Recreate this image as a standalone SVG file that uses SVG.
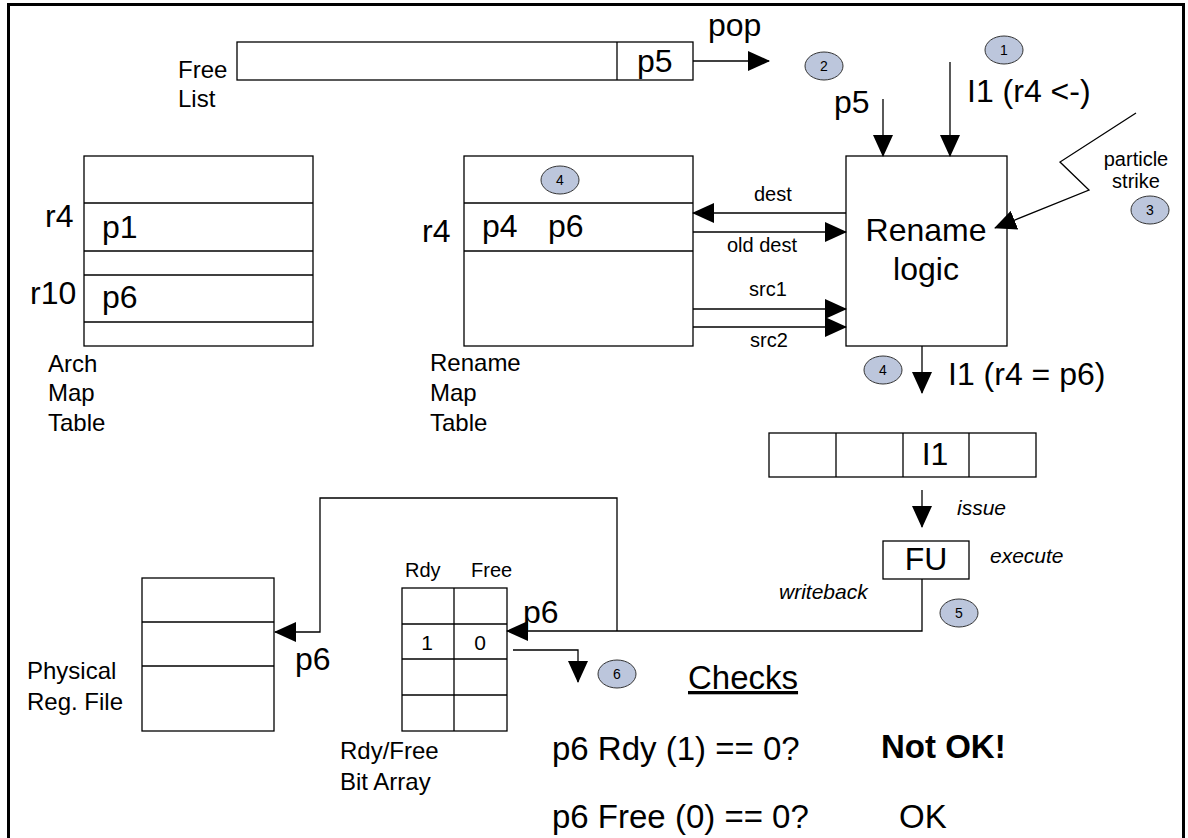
<svg xmlns="http://www.w3.org/2000/svg" width="1188" height="838" viewBox="0 0 1188 838">
  <style>
    text { font-family: "Liberation Sans", Arial, sans-serif; fill: #000; }
    .big { font-size: 32px; }
    .chk { font-size: 33px; }
    .mid { font-size: 24px; }
    .sm { font-size: 20px; }
    .it { font-size: 21px; font-style: italic; }
    .num { font-size: 14px; text-anchor: middle; }
    .box { fill: #fff; stroke: #000; stroke-width: 1.3; }
    .ln { fill: none; stroke: #000; stroke-width: 1.3; }
    .wire { fill: none; stroke: #000; stroke-width: 1.3; }
    .arr { marker-end: url(#head); }
    .badge { fill: #bcc6dc; stroke: #333; stroke-width: 1; }
  </style>
  <defs>
    <marker id="head" markerUnits="userSpaceOnUse" markerWidth="22" markerHeight="20" viewBox="0 0 22 20" refX="21" refY="10" orient="auto">
      <path d="M0,0 L22,10 L0,20 Z" fill="#000"/>
    </marker>
  </defs>

  <rect width="1188" height="838" fill="#fff"/>
  <!-- frame -->
  <path d="M8.5,845 V4.5 H1183.5 V845" fill="none" stroke="#000" stroke-width="3"/>

  <!-- free list -->
  <g id="free-list">
    <rect class="box" x="237" y="42" width="456" height="38"/>
    <line class="ln" x1="617" y1="42" x2="617" y2="80"/>
    <text class="big" x="637" y="72">p5</text>
    <text class="mid" x="178" y="78">Free</text>
    <text class="mid" x="178" y="107">List</text>
  </g>

  <!-- architectural map table -->
  <g id="arch-map">
    <rect class="box" x="84" y="156" width="229" height="190"/>
    <line class="ln" x1="84" y1="203" x2="313" y2="203"/>
    <line class="ln" x1="84" y1="251" x2="313" y2="251"/>
    <line class="ln" x1="84" y1="275" x2="313" y2="275"/>
    <line class="ln" x1="84" y1="322" x2="313" y2="322"/>
    <text class="big" x="45" y="227">r4</text>
    <text class="big" x="102" y="238">p1</text>
    <text class="big" x="30" y="304">r10</text>
    <text class="big" x="102" y="308">p6</text>
    <text class="mid" x="48" y="372">Arch</text>
    <text class="mid" x="48" y="401">Map</text>
    <text class="mid" x="48" y="431">Table</text>
  </g>

  <!-- rename map table -->
  <g id="rename-map">
    <rect class="box" x="464" y="156" width="229" height="190"/>
    <line class="ln" x1="464" y1="203" x2="693" y2="203"/>
    <line class="ln" x1="464" y1="251" x2="693" y2="251"/>
    <text class="big" x="422" y="242">r4</text>
    <text class="big" x="482" y="237">p4</text>
    <text class="big" x="548" y="237">p6</text>
    <text class="mid" x="430" y="371">Rename</text>
    <text class="mid" x="430" y="401">Map</text>
    <text class="mid" x="430" y="431">Table</text>
  </g>

  <!-- rename logic -->
  <g id="rename-logic">
    <rect class="box" x="846" y="156" width="161" height="190"/>
    <text class="big" x="926" y="241" text-anchor="middle">Rename</text>
    <text class="big" x="926" y="280" text-anchor="middle">logic</text>
  </g>

  <!-- issue queue -->
  <g id="issue-queue">
    <rect class="box" x="769" y="433" width="267" height="44"/>
    <line class="ln" x1="836" y1="433" x2="836" y2="477"/>
    <line class="ln" x1="903" y1="433" x2="903" y2="477"/>
    <line class="ln" x1="969" y1="433" x2="969" y2="477"/>
    <text class="big" x="935" y="465" text-anchor="middle">I1</text>
  </g>

  <!-- functional unit -->
  <g id="fu">
    <rect class="box" x="883" y="541" width="86" height="38"/>
    <text class="big" x="926" y="570" text-anchor="middle">FU</text>
  </g>

  <!-- physical register file -->
  <g id="prf">
    <rect class="box" x="142" y="578" width="132" height="153"/>
    <line class="ln" x1="142" y1="622" x2="274" y2="622"/>
    <line class="ln" x1="142" y1="666" x2="274" y2="666"/>
    <text class="mid" x="27" y="679">Physical</text>
    <text class="mid" x="27" y="710">Reg. File</text>
  </g>

  <!-- ready / free bit array -->
  <g id="bit-array">
    <rect class="box" x="402" y="588" width="105" height="143"/>
    <line class="ln" x1="454" y1="588" x2="454" y2="731"/>
    <line class="ln" x1="402" y1="624" x2="507" y2="624"/>
    <line class="ln" x1="402" y1="659" x2="507" y2="659"/>
    <line class="ln" x1="402" y1="695" x2="507" y2="695"/>
    <text class="sm" x="405" y="577">Rdy</text>
    <text class="sm" x="471" y="577">Free</text>
    <text class="sm" x="427" y="650" text-anchor="middle" style="font-size:21px">1</text>
    <text class="sm" x="480" y="650" text-anchor="middle" style="font-size:21px">0</text>
    <text class="mid" x="340" y="759">Rdy/Free</text>
    <text class="mid" x="340" y="790">Bit Array</text>
  </g>

  <!-- connectors -->
  <g id="connectors">
    <line class="wire arr" x1="693" y1="61" x2="769" y2="61"/>
    <line class="wire arr" x1="883" y1="99" x2="883" y2="156"/>
    <line class="wire arr" x1="950" y1="62" x2="950" y2="156"/>
    <polyline class="wire arr" points="1136,113 1060,162 1089,190 995,228"/>
    <line class="wire arr" x1="846" y1="213" x2="693" y2="213"/>
    <line class="wire arr" x1="693" y1="232" x2="846" y2="232"/>
    <line class="wire arr" x1="693" y1="309" x2="846" y2="309"/>
    <line class="wire arr" x1="693" y1="327" x2="846" y2="327"/>
    <line class="wire arr" x1="922" y1="346" x2="922" y2="393"/>
    <line class="wire arr" x1="922" y1="490" x2="922" y2="527"/>
    <polyline class="wire arr" points="922,579 922,631 507,631"/>
    <polyline class="wire arr" points="617,631 617,498 320,498 320,632 275,632"/>
    <polyline class="wire arr" points="513,650 578,650 578,682"/>
  </g>

  <!-- connector labels -->
  <g id="labels">
    <text class="big" x="708" y="36">pop</text>
    <text class="big" x="834" y="113">p5</text>
    <text class="big" x="967" y="102">I1 (r4 &lt;-)</text>
    <text class="sm" x="1136" y="166" text-anchor="middle">particle</text>
    <text class="sm" x="1136" y="188" text-anchor="middle">strike</text>
    <text class="sm" x="754" y="201">dest</text>
    <text class="sm" x="727" y="252">old dest</text>
    <text class="sm" x="749" y="296">src1</text>
    <text class="sm" x="750" y="347">src2</text>
    <text class="big" x="948" y="385">I1 (r4 = p6)</text>
    <text class="it" x="957" y="515">issue</text>
    <text class="it" x="990" y="563">execute</text>
    <text class="it" x="779" y="599">writeback</text>
    <text class="big" x="523" y="623">p6</text>
    <text class="big" x="295" y="670">p6</text>
  </g>

  <!-- step badges -->
  <g id="badge-1"><ellipse class="badge" cx="1004" cy="50" rx="19" ry="14"/><text class="num" x="1004" y="55">1</text></g>
  <g id="badge-2"><ellipse class="badge" cx="824" cy="66" rx="19" ry="14"/><text class="num" x="824" y="71">2</text></g>
  <g id="badge-3"><ellipse class="badge" cx="1150" cy="210" rx="19" ry="14"/><text class="num" x="1150" y="215">3</text></g>
  <g id="badge-4a"><ellipse class="badge" cx="560" cy="180" rx="19" ry="14"/><text class="num" x="560" y="185">4</text></g>
  <g id="badge-4b"><ellipse class="badge" cx="883" cy="370" rx="19" ry="14"/><text class="num" x="883" y="375">4</text></g>
  <g id="badge-5"><ellipse class="badge" cx="959" cy="613" rx="19" ry="14"/><text class="num" x="959" y="618">5</text></g>
  <g id="badge-6"><ellipse class="badge" cx="617" cy="674" rx="19" ry="14"/><text class="num" x="617" y="679">6</text></g>

  <!-- checks -->
  <g id="checks">
    <text class="chk" x="688" y="689" text-decoration="underline">Checks</text>
    <text class="chk" x="552" y="760">p6 Rdy (1) == 0?</text>
    <text class="chk" x="881" y="758" font-weight="bold">Not OK!</text>
    <text class="chk" x="552" y="828">p6 Free (0) == 0?</text>
    <text class="chk" x="899" y="828">OK</text>
  </g>
</svg>
